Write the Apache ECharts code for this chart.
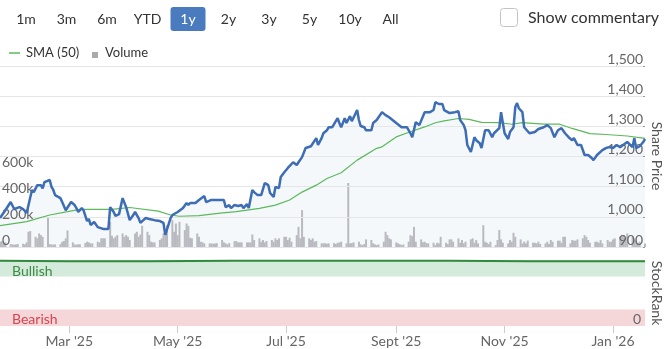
<!DOCTYPE html>
<html><head><meta charset="utf-8">
<script src="https://cdn.jsdelivr.net/npm/echarts@6/dist/echarts.min.js"></script>
<style>html,body{margin:0;padding:0;background:#fff}#c{width:668px;height:349px}</style>
</head><body><div id="c"></div>
<script>
// ---------- data ----------
const priceDates = ['2025-01-21','2025-01-24','2025-01-27','2025-01-29','2025-02-01','2025-02-03','2025-02-05','2025-02-06','2025-02-08','2025-02-09','2025-02-11','2025-02-12','2025-02-13','2025-02-14','2025-02-15','2025-02-16','2025-02-18','2025-02-19','2025-02-20','2025-02-21','2025-02-24','2025-02-25','2025-02-27','2025-02-28','2025-03-02','2025-03-04','2025-03-05','2025-03-06','2025-03-08','2025-03-09','2025-03-11','2025-03-12','2025-03-13','2025-03-15','2025-03-17','2025-03-18','2025-03-20','2025-03-23','2025-03-24','2025-03-26','2025-03-27','2025-03-29','2025-03-31','2025-04-02','2025-04-04','2025-04-06','2025-04-07','2025-04-09','2025-04-10','2025-04-13','2025-04-15','2025-04-18','2025-04-21','2025-04-23','2025-04-24','2025-04-25','2025-04-27','2025-04-28','2025-05-01','2025-05-04','2025-05-06','2025-05-07','2025-05-08','2025-05-11','2025-05-13','2025-05-16','2025-05-17','2025-05-20','2025-05-22','2025-05-27','2025-05-28','2025-05-30','2025-05-31','2025-06-02','2025-06-04','2025-06-06','2025-06-07','2025-06-09','2025-06-10','2025-06-12','2025-06-13','2025-06-15','2025-06-17','2025-06-19','2025-06-21','2025-06-22','2025-06-24','2025-06-25','2025-06-27','2025-06-28','2025-06-30','2025-07-02','2025-07-05','2025-07-07','2025-07-08','2025-07-10','2025-07-12','2025-07-13','2025-07-15','2025-07-16','2025-07-18','2025-07-19','2025-07-21','2025-07-22','2025-07-24','2025-07-25','2025-07-27','2025-07-30','2025-07-31','2025-08-01','2025-08-03','2025-08-04','2025-08-06','2025-08-07','2025-08-10','2025-08-11','2025-08-12','2025-08-14','2025-08-15','2025-08-18','2025-08-19','2025-08-21','2025-08-24','2025-08-26','2025-08-28','2025-08-29','2025-09-01','2025-09-02','2025-09-04','2025-09-07','2025-09-09','2025-09-10','2025-09-12','2025-09-14','2025-09-17','2025-09-18','2025-09-20','2025-09-22','2025-09-23','2025-09-25','2025-09-27','2025-09-28','2025-10-01','2025-10-02','2025-10-04','2025-10-06','2025-10-07','2025-10-09','2025-10-10','2025-10-11','2025-10-13','2025-10-15','2025-10-16','2025-10-18','2025-10-19','2025-10-21','2025-10-22','2025-10-23','2025-10-25','2025-10-26','2025-10-29','2025-10-30','2025-10-31','2025-11-01','2025-11-03','2025-11-04','2025-11-06','2025-11-07','2025-11-08','2025-11-09','2025-11-11','2025-11-12','2025-11-15','2025-11-16','2025-11-18','2025-11-20','2025-11-23','2025-11-25','2025-11-27','2025-11-29','2025-12-01','2025-12-03','2025-12-05','2025-12-07','2025-12-09','2025-12-10','2025-12-12','2025-12-14','2025-12-16','2025-12-18','2025-12-20','2025-12-21','2025-12-23','2025-12-26','2025-12-28','2025-12-30','2026-01-01','2026-01-03','2026-01-05','2026-01-06','2026-01-09','2026-01-10','2026-01-12','2026-01-13','2026-01-14','2026-01-16','2026-01-18','2026-01-19'];
const prices = [996,1022,1049,1026,1032,1026,1013,1016,1089,1082,1105,1102,1105,1094,1115,1115,1122,1099,1089,1072,1062,1049,1022,1019,1049,1039,1029,1016,1029,1022,986,993,973,983,966,966,960,960,1032,1016,1003,1009,1062,1032,989,1006,1016,996,980,996,993,989,986,980,940,940,996,1006,1016,1029,1046,1039,1046,1046,1056,1069,1049,1056,1056,1056,1032,1039,1029,1039,1036,1039,1029,1042,1029,1089,1082,1072,1072,1112,1105,1079,1066,1099,1095,1132,1148,1162,1181,1172,1181,1198,1228,1231,1234,1231,1261,1238,1261,1277,1287,1297,1297,1327,1311,1297,1327,1311,1334,1317,1354,1321,1301,1297,1287,1287,1311,1321,1347,1337,1330,1330,1311,1307,1297,1297,1277,1264,1314,1304,1347,1350,1347,1354,1380,1374,1374,1354,1344,1340,1347,1350,1321,1304,1287,1238,1215,1264,1254,1244,1228,1287,1281,1287,1264,1277,1294,1347,1311,1277,1258,1281,1297,1364,1377,1360,1347,1297,1277,1271,1281,1291,1297,1304,1294,1264,1287,1294,1277,1264,1254,1261,1238,1238,1205,1205,1195,1188,1205,1221,1228,1231,1228,1238,1231,1231,1248,1254,1231,1261,1228,1234,1248,1258];

const smaDates = ['2025-01-21','2025-02-05','2025-02-18','2025-02-28','2025-03-07','2025-03-25','2025-04-04','2025-04-20','2025-04-27','2025-05-02','2025-05-13','2025-05-25','2025-06-03','2025-06-16','2025-06-25','2025-07-03','2025-07-10','2025-07-18','2025-07-24','2025-08-01','2025-08-10','2025-08-21','2025-08-24','2025-09-01','2025-09-09','2025-09-17','2025-09-23','2025-09-28','2025-10-06','2025-10-12','2025-10-19','2025-10-29','2025-11-05','2025-11-11','2025-11-23','2025-12-02','2025-12-09','2025-12-19','2025-12-28','2026-01-09','2026-01-19'];
const smaValues = [971,984,1006,1017,1025,1025,1031,1019,1006,1002,1004,1012,1017,1028,1039,1056,1082,1105,1127,1146,1188,1227,1232,1265,1282,1298,1312,1318,1326,1323,1313,1312,1307,1312,1307,1307,1293,1276,1273,1268,1260];

// daily volume (thousands), one value per weekday starting at volumeStart
const volumeStart = '2025-01-21';
const volumes = [
 40,45,38,36,22, 20,18,20,22,25, 20,36,118,123,79, 67,105,92,79,226,
 22,20,18,20,22, 41,46,67,128,36, 20,18,22,20,30, 41,36,28,28,41,
 36,67,67,67,195, 87,67,79,92,105, 79,92,79,54,105, 118,79,97,164,118,
 92,41,36,36,54, 67,105,92,169,208, 118,182,92,195,131, 182,164,72,67,105,
 79,41,36,28,28, 28,25,28,30,54, 36,28,20,30,46, 46,36,36,36,36,
 36,36,97,54,67, 41,54,36,46,54, 41,67,54,67,79, 79,54,72,41,92,
 156,67,285,79,67, 54,67,41,46,28, 28,30,25,28,30, 23,33,35,41,28,
 495,28,30,36,41, 20,15,23,59,54, 28,20,15,20,41, 118,92,67,59,36,
 28,22,15,20,41, 92,84,156,41,59, 36,41,30,28,33, 15,33,28,79,33,
 23,59,59,41,67, 33,54,28,41,59, 67,33,54,28,169, 41,33,23,41,15,
 54,131,59,33,28, 54,41,110,79,59, 28,41,28,49,33, 33,28,41,23,28,
 41,23,54,41,49, 49,33,79,79,28, 54,49,49,59,67, 92,79,54,33,41,
 41,33,54,28,54, 41,41,59,67,79, 85,92,79,105,79, 59,49,33,41,28
];

const rankDates = ['2025-01-21','2025-03-01','2025-04-15','2025-06-01','2025-08-01','2025-10-01','2025-11-15','2026-01-19'];
const rankValues = [99,98,98,99,99,99,98,98];

const xStart = '2025-01-21', xEnd = '2026-01-19';
const xTickDates = ['2025-03-01','2025-05-01','2025-07-01','2025-09-01','2025-11-01','2026-01-01'];
const xTickLabels = ["Mar '25","May '25","Jul '25","Sept '25","Nov '25","Jan '26"];
const priceMin = 900, priceMax = 1500, priceStep = 100;
const volMax = 1400, volStep = 200, volLabelMax = 600;
const rangeButtons = ['1m','3m','6m','YTD','1y','2y','3y','5y','10y','All'];
const selectedRange = '1y';

// ---------- helpers ----------
function ts(s){ const p = s.split('-').map(Number); return new Date(p[0], p[1]-1, p[2]).getTime(); }
function fmtThousands(v){ return String(v).replace(/\B(?=(\d{3})+(?!\d))/g, ','); }

const priceData = priceDates.map((d,i)=>[ts(d), prices[i]]);
const smaData = smaDates.map((d,i)=>[ts(d), smaValues[i]]);
const rankData = rankDates.map((d,i)=>[ts(d), rankValues[i]]);
const volumeData = [];
(function(){
  const d = new Date(ts(volumeStart));
  let i = 0;
  while (i < volumes.length) {
    const wd = d.getDay();
    if (wd !== 0 && wd !== 6) { volumeData.push([d.getTime(), volumes[i]]); i++; }
    d.setDate(d.getDate()+1);
  }
})();
const tickTs = xTickDates.map(ts);

const FONT = 'Lato';
const TXT = '#333333';
const AX = '#666666';

const graphics = [];
rangeButtons.forEach((b, i) => {
  const cx = 26 + i * 40.5;
  const sel = b === selectedRange;
  if (sel) graphics.push({type:'rect', shape:{x:cx-17.5, y:7, width:35, height:24, r:3}, style:{fill:'#4a7bbf'}});
  graphics.push({type:'text', x:cx, y:19, style:{text:b, fill: sel ? '#ffffff' : TXT, font:'14px '+FONT, textAlign:'center', textVerticalAlign:'middle'}});
});
graphics.push({type:'rect', shape:{x:500.5, y:8.5, width:17, height:18, r:3}, style:{fill:'#fff', stroke:'#c4c4c4', lineWidth:1}});
graphics.push({type:'text', x:528, y:18, style:{text:'Show commentary', fill:TXT, font:'16px '+FONT, textVerticalAlign:'middle'}});
graphics.push({type:'line', shape:{x1:9, y1:53, x2:20, y2:53}, style:{stroke:'#5cb85c', lineWidth:1.5}});
graphics.push({type:'text', x:26, y:53, style:{text:'SMA (50)', fill:TXT, font:'13px '+FONT, textVerticalAlign:'middle'}});
graphics.push({type:'rect', shape:{x:92, y:52, width:6, height:6}, style:{fill:'#aaaaaa'}});
graphics.push({type:'text', x:105, y:53, style:{text:'Volume', fill:TXT, font:'13px '+FONT, textVerticalAlign:'middle'}});
graphics.push({type:'text', x:657, y:156, rotation:-Math.PI/2, style:{text:'Share Price', fill:'#555', font:'14px '+FONT, textAlign:'center', textVerticalAlign:'middle'}});
graphics.push({type:'text', x:657, y:293, rotation:-Math.PI/2, style:{text:'StockRank', fill:'#555', font:'14px '+FONT, textAlign:'center', textVerticalAlign:'middle'}});
graphics.push({type:'text', x:12, y:271, z:10, style:{text:'Bullish', fill:'#3b8c44', font:'14px '+FONT, textVerticalAlign:'middle'}});
graphics.push({type:'text', x:12, y:319, z:10, style:{text:'Bearish', fill:'#d9434e', font:'14px '+FONT, textVerticalAlign:'middle'}});

const chart = echarts.init(document.getElementById('c'), null, {renderer:'canvas'});
chart.setOption({
  animation: false,
  backgroundColor: '#ffffff',
  textStyle: {fontFamily: FONT},
  grid: [
    {left:0, right:23, top:66, height:181, containLabel:false, outerBoundsMode:'none'},
    {left:0, right:23, top:260, height:66, containLabel:false, outerBoundsMode:'none'}
  ],
  xAxis: [
    {type:'value', gridIndex:0, min:ts(xStart), max:ts(xEnd), axisLine:{show:false}, axisTick:{show:false}, axisLabel:{show:false}, splitLine:{show:false}},
    {type:'value', gridIndex:1, min:ts(xStart), max:ts(xEnd), axisLine:{show:false},
      axisTick:{show:true, customValues:tickTs, length:7, lineStyle:{color:'#cccccc'}},
      axisLabel:{show:true, customValues:tickTs, margin:8, color:AX, fontSize:14, fontFamily:FONT,
        formatter:(v)=>{ const i = tickTs.indexOf(v); return i >= 0 ? xTickLabels[i] : ''; }},
      splitLine:{show:false}}
  ],
  yAxis: [
    {type:'value', gridIndex:0, position:'right', min:priceMin, max:priceMax, interval:priceStep, z:3,
      axisLine:{show:false}, axisTick:{show:true, inside:true, length:2, lineStyle:{color:'#999'}},
      axisLabel:{inside:true, margin:2, color:AX, fontSize:14, fontFamily:FONT, verticalAlign:'bottom', formatter:(v)=>fmtThousands(v)},
      splitLine:{show:true, lineStyle:{color:'#e6e6e6', width:1}}},
    {type:'value', gridIndex:0, position:'left', min:0, max:volMax, interval:volStep, z:3,
      axisLine:{show:false}, axisTick:{show:false},
      axisLabel:{inside:true, margin:2, color:AX, fontSize:14, fontFamily:FONT, verticalAlign:'bottom',
        formatter:(v)=> v > volLabelMax ? '' : (v === 0 ? '0' : v + 'k')},
      splitLine:{show:false}},
    {type:'value', gridIndex:1, position:'right', min:0, max:100, interval:100, z:20,
      axisLine:{show:false}, axisTick:{show:false},
      axisLabel:{inside:true, margin:4, color:AX, fontSize:14, fontFamily:FONT, verticalAlign:'bottom',
        formatter:(v)=> v === 0 ? '0' : ''},
      splitLine:{show:false}}
  ],
  series: [
    {name:'PriceArea', type:'line', xAxisIndex:0, yAxisIndex:0, data:priceData, showSymbol:false, silent:true, z:1,
      lineStyle:{width:0, opacity:0}, areaStyle:{color:'rgba(61,109,181,0.05)', origin:'start', opacity:1}},
    {name:'Volume', type:'bar', xAxisIndex:0, yAxisIndex:1, data:volumeData, barWidth:2, z:2,
      itemStyle:{color:'#b9bac0'}},
    {name:'SMA (50)', type:'line', xAxisIndex:0, yAxisIndex:0, data:smaData, showSymbol:false, z:4,
      lineStyle:{color:'#5cb85c', width:1.2}},
    {name:'Share Price', type:'line', xAxisIndex:0, yAxisIndex:0, data:priceData, showSymbol:false, z:5,
      lineStyle:{color:'#3d6db5', width:2.5}},
    {name:'StockRank', type:'line', xAxisIndex:1, yAxisIndex:2, data:rankData, showSymbol:false, z:5,
      lineStyle:{color:'#2f8a3e', width:2},
      markArea:{silent:true, label:{show:false},
        data:[
          [{yAxis:75, itemStyle:{color:'#d4eadb'}}, {yAxis:100}],
          [{yAxis:0, itemStyle:{color:'#f5d6d9'}}, {yAxis:25}]
        ]}}
  ],
  graphic: graphics
});
</script>
</body></html>
